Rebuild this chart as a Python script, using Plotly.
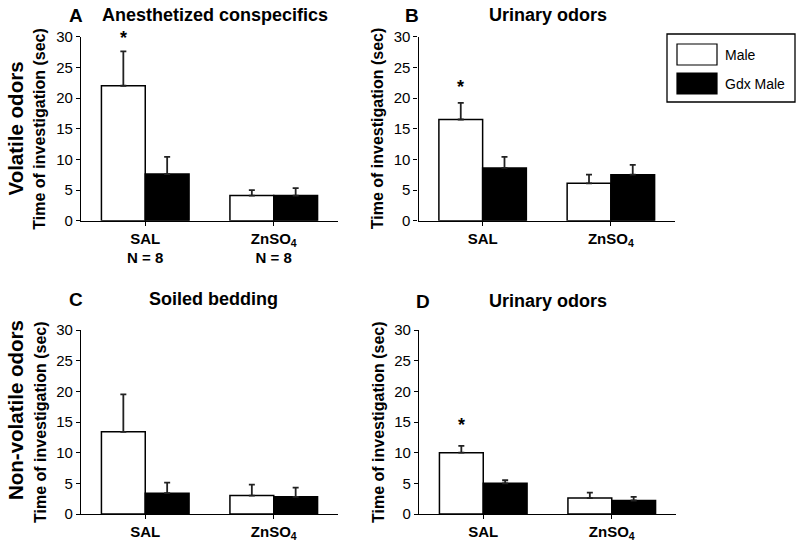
import plotly.graph_objects as go

categories = ["SAL", "ZnSO4"]
tick_text_a = ["<b>SAL</b><br><b>N = 8</b>", "<b>ZnSO<sub>4</sub></b><br><b>N = 8</b>"]
tick_text = ["<b>SAL</b>", "<b>ZnSO<sub>4</sub></b>"]

# Panel A: Anesthetized conspecifics (volatile)
a_male = [22.0, 4.1]
a_male_err = [5.6, 0.9]
a_gdx = [7.6, 4.1]
a_gdx_err = [2.8, 1.2]

# Panel B: Urinary odors (volatile)
b_male = [16.5, 6.1]
b_male_err = [2.7, 1.4]
b_gdx = [8.6, 7.5]
b_gdx_err = [1.8, 1.6]

# Panel C: Soiled bedding (non-volatile)
c_male = [13.4, 3.0]
c_male_err = [6.1, 1.8]
c_gdx = [3.4, 2.8]
c_gdx_err = [1.7, 1.5]

# Panel D: Urinary odors (non-volatile)
d_male = [10.0, 2.6]
d_male_err = [1.1, 0.9]
d_gdx = [5.0, 2.2]
d_gdx_err = [0.5, 0.6]

panels = [
    ("x", "y", a_male, a_male_err, a_gdx, a_gdx_err),
    ("x2", "y2", b_male, b_male_err, b_gdx, b_gdx_err),
    ("x3", "y3", c_male, c_male_err, c_gdx, c_gdx_err),
    ("x4", "y4", d_male, d_male_err, d_gdx, d_gdx_err),
]

FONT = "Liberation Sans, Arial, sans-serif"
fig = go.Figure()

for xa, ya, m, me, g, ge in panels:
    fig.add_trace(go.Bar(
        x=categories, y=m, xaxis=xa, yaxis=ya, name="Male", showlegend=False,
        marker=dict(color="white", line=dict(color="black", width=1.5)),
        error_y=dict(type="data", array=me, arrayminus=[0] * len(me), symmetric=False,
                     color="#222222", thickness=1.8, width=3),
    ))
    fig.add_trace(go.Bar(
        x=categories, y=g, xaxis=xa, yaxis=ya, name="Gdx Male", showlegend=False,
        marker=dict(color="black", line=dict(color="black", width=1.5)),
        error_y=dict(type="data", array=ge, arrayminus=[0] * len(ge), symmetric=False,
                     color="#222222", thickness=1.8, width=3),
    ))

top_dom = [1 - 220.7 / 543, 1 - 36.7 / 543]
bot_dom = [1 - 514 / 543, 1 - 330 / 543]
xdoms = {
    "": [81 / 800, 338 / 800],
    "2": [418.5 / 800, 675 / 800],
    "3": [81 / 800, 338 / 800],
    "4": [419 / 800, 676 / 800],
}
ydoms = {"": top_dom, "2": top_dom, "3": bot_dom, "4": bot_dom}

layout = dict(
    template="none",
    width=800, height=543, autosize=False,
    margin=dict(l=0, r=0, t=0, b=0, pad=0, autoexpand=False),
    paper_bgcolor="white", plot_bgcolor="white",
    barmode="group", bargap=0.318, bargroupgap=0,
    font=dict(family=FONT, color="black"),
    showlegend=False,
)
for k in ["", "2", "3", "4"]:
    yanchor = "y" + k
    xanchor = "x" + k
    layout["xaxis" + k] = dict(
        domain=xdoms[k], anchor=yanchor, type="category", automargin=False,
        categoryorder="array", categoryarray=categories,
        tickmode="array", tickvals=categories,
        ticktext=tick_text_a if k == "" else tick_text,
        showline=True, linecolor="black", linewidth=1.3,
        ticks="outside", ticklen=4, tickcolor="black", tickwidth=1.3,
        tickfont=dict(size=15, family=FONT, color="black"),
        showgrid=False, zeroline=False, fixedrange=True,
    )
    layout["yaxis" + k] = dict(
        domain=ydoms[k], anchor=xanchor, range=[0, 30], automargin=False,
        tickmode="linear", tick0=0, dtick=5,
        showline=True, linecolor="black", linewidth=1.3,
        ticks="outside", ticklen=4, tickcolor="black", tickwidth=1.3,
        tickfont=dict(size=15, family=FONT, color="black"),
        showgrid=False, zeroline=False, fixedrange=True,
    )
fig.update_layout(**layout)

ann = []
# Panel letters and titles
for letter, lx, title, tx, ty in [
    ("A", 76, "Anesthetized conspecifics", 215, 15),
    ("B", 412, "Urinary odors", 548, 15),
    ("C", 76, "Soiled bedding", 213, 299),
    ("D", 423, "Urinary odors", 548, 301),
]:
    ann.append(dict(text="<b>" + letter + "</b>", x=lx / 800, y=1 - ty / 543, xref="paper", yref="paper",
                    showarrow=False, font=dict(size=19, family=FONT), xanchor="center", yanchor="middle"))
    ann.append(dict(text="<b>" + title + "</b>", x=tx / 800, y=1 - ty / 543, xref="paper", yref="paper",
                    showarrow=False, font=dict(size=18, family=FONT), xanchor="center", yanchor="middle"))

# Y axis titles
for x, yc in [(40, 128.7), (377.5, 128.7), (40, 422), (378, 422)]:
    ann.append(dict(text="<b>Time of investigation (sec)</b>", x=x / 800, y=1 - yc / 543,
                    xref="paper", yref="paper", showarrow=False, textangle=-90,
                    font=dict(size=16, family=FONT), xanchor="center", yanchor="middle"))
ann.append(dict(text="<b>Volatile odors</b>", x=15 / 800, y=1 - 128.5 / 543, xref="paper", yref="paper",
                showarrow=False, textangle=-90, font=dict(size=20.5, family=FONT),
                xanchor="center", yanchor="middle"))
ann.append(dict(text="<b>Non-volatile odors</b>", x=15 / 800, y=1 - 410 / 543, xref="paper", yref="paper",
                showarrow=False, textangle=-90, font=dict(size=20.5, family=FONT),
                xanchor="center", yanchor="middle"))

# Significance asterisks
for xr, yr, yv in [("x", "y", 29.8), ("x2", "y2", 21.8), ("x4", "y4", 14.5)]:
    ann.append(dict(text="<b>*</b>", x="SAL", y=yv, xref=xr, yref=yr, xshift=-22,
                    showarrow=False, font=dict(size=18, family=FONT),
                    xanchor="center", yanchor="middle"))

# Legend (drawn manually to match the large swatches)
ann.append(dict(text="Male", x=723 / 800, y=1 - 54.5 / 543, xref="paper", yref="paper", showarrow=False,
                font=dict(size=14, family=FONT), xanchor="left", yanchor="middle"))
ann.append(dict(text="Gdx Male", x=723 / 800, y=1 - 84 / 543, xref="paper", yref="paper", showarrow=False,
                font=dict(size=14, family=FONT), xanchor="left", yanchor="middle"))

shapes = [
    dict(type="rect", xref="paper", yref="paper", x0=667 / 800, x1=795 / 800, y0=1 - 102 / 543, y1=1 - 34 / 543,
         line=dict(color="black", width=1.3), fillcolor="rgba(0,0,0,0)"),
    dict(type="rect", xref="paper", yref="paper", x0=677 / 800, x1=717 / 800, y0=1 - 65 / 543, y1=1 - 44 / 543,
         line=dict(color="black", width=1.2), fillcolor="white"),
    dict(type="rect", xref="paper", yref="paper", x0=677 / 800, x1=717 / 800, y0=1 - 94 / 543, y1=1 - 73 / 543,
         line=dict(color="black", width=1.2), fillcolor="black"),
]
fig.update_layout(annotations=ann, shapes=shapes)

fig.write_html(
    "out.html",
    config={"displayModeBar": False, "responsive": False},
    post_script="document.body.style.margin='0';document.body.style.overflow='hidden';",
)
